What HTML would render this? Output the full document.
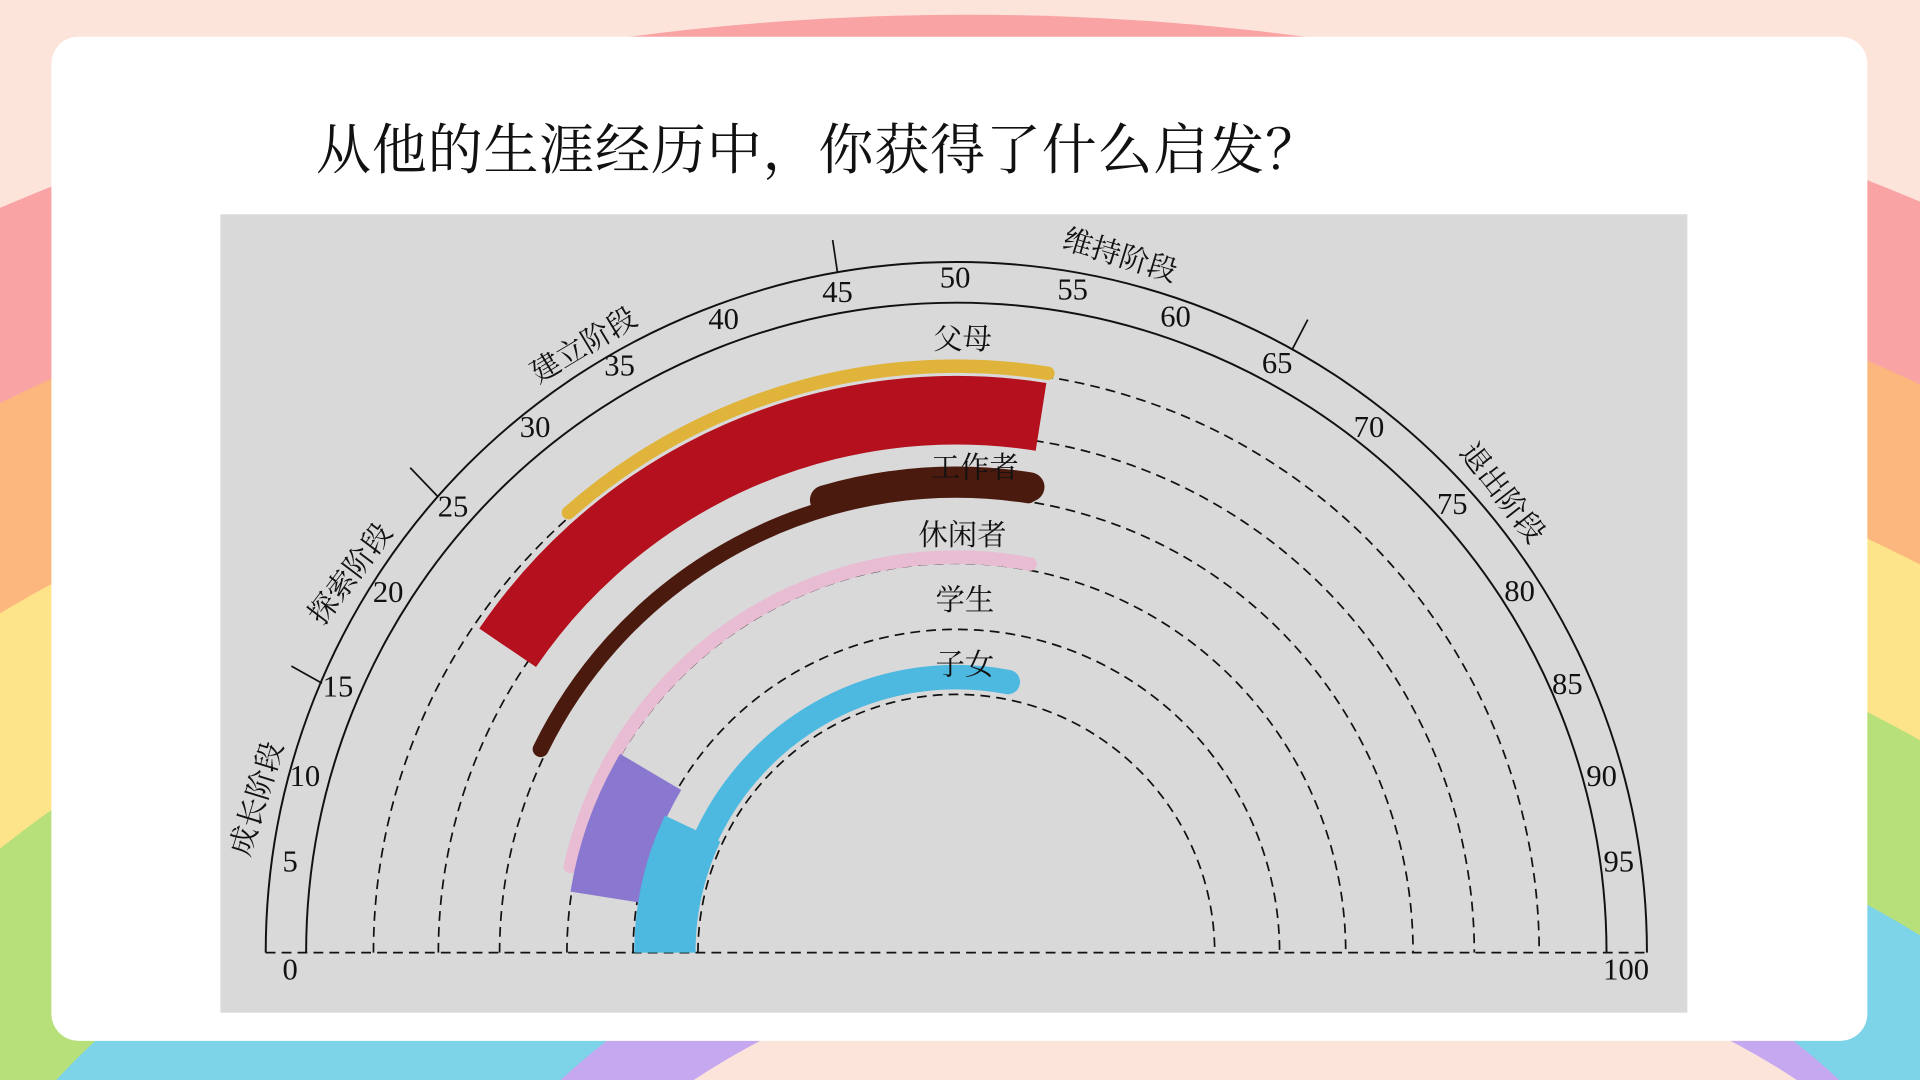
<!DOCTYPE html>
<html><head><meta charset="utf-8"><style>
html,body{margin:0;padding:0;width:1920px;height:1080px;overflow:hidden;background:#fde4da}
svg{display:block;overflow:hidden}
.n{font-family:"Liberation Serif","Noto Serif CJK SC",serif;font-size:25px;fill:#111}
.c{font-family:"Liberation Serif","Noto Serif CJK SC",serif;font-size:24px;fill:#111}
</style></head><body>
<svg width="1920" height="1080" viewBox="0 0 1568 882" xmlns="http://www.w3.org/2000/svg">
<rect width="1568" height="882" fill="#fde4da"/>
<ellipse cx="790" cy="1150" rx="1555" ry="1138" fill="#f9a3a5"/>
<ellipse cx="800" cy="1150" rx="1400" ry="1000" fill="#fbb77e"/>
<ellipse cx="820" cy="1150" rx="1250" ry="860" fill="#fde48a"/>
<ellipse cx="850" cy="1150" rx="1100" ry="720" fill="#b8e07a"/>
<ellipse cx="880" cy="1150" rx="950" ry="560" fill="#7dd3e8"/>
<ellipse cx="980" cy="1150" rx="650" ry="450" fill="#c6a8f0"/>
<ellipse cx="1017" cy="1150" rx="620" ry="390" fill="#fde4da"/>
<rect x="42" y="30" width="1483" height="820" rx="22" fill="#fff"/>
<text x="258" y="138" font-family="'Liberation Serif','Noto Serif CJK SC',serif" font-size="45" letter-spacing="0.6" fill="#111">从他的生涯经历中，你获得了什么启发？</text>
<rect x="180" y="175" width="1198" height="652" fill="#d9d9d9"/>

<g fill="none" stroke="#111" stroke-width="1.6">
<path d="M217 778 A564 564 0 0 1 1345 778"/>
<path d="M250 778 A531 531 0 0 1 1312 778"/>
<g stroke-dasharray="8 5" stroke-width="1.4">
<path d="M305 778 A476 476 0 0 1 1257 778"/>
<path d="M358 778 A423 423 0 0 1 1204 778"/>
<path d="M408 778 A373 373 0 0 1 1154 778"/>
<path d="M463 778 A318 318 0 0 1 1099 778"/>
<path d="M517 778 A264 264 0 0 1 1045 778"/>
<path d="M570 778 A211 211 0 0 1 992 778"/>
<path d="M217 778 H1345"/>
</g>
<g stroke-width="1.4">
<line x1="238" y1="544" x2="263" y2="558"/>
<line x1="335" y1="382" x2="358" y2="406"/>
<line x1="680" y1="196" x2="684" y2="223"/>
<line x1="1068" y1="261" x2="1055" y2="286"/>
</g>
</g>

<!-- colored strokes -->
<g fill="none">
<path d="M302 778 A479 479 0 0 1 1260 778" pathLength="100" stroke="#e0b43a" stroke-width="11" stroke-dasharray="28 300" stroke-dashoffset="-27" stroke-linecap="round"/>
<path d="M338 778 A443 443 0 0 1 1224 778" pathLength="100" stroke="#b5101e" stroke-width="56" stroke-dasharray="36 300" stroke-dashoffset="-19"/>
<path d="M403 778 A378 378 0 0 1 1159 778" pathLength="100" stroke="#4a1a0e" stroke-width="13" stroke-dasharray="40.5 300" stroke-dashoffset="-14.5" stroke-linecap="round"/>
<path d="M396 778 A385 385 0 0 1 1166 778" pathLength="100" stroke="#4a1a0e" stroke-width="24" stroke-dasharray="14 300" stroke-dashoffset="-41" stroke-linecap="round"/>
<path d="M458 778 A323 323 0 0 1 1104 778" pathLength="100" stroke="#e8bcd2" stroke-width="11" stroke-dasharray="49 300" stroke-dashoffset="-7" stroke-linecap="round"/>
<path d="M491 778 A290 290 0 0 1 1071 778" pathLength="100" stroke="#8a78d0" stroke-width="58" stroke-dasharray="12 300" stroke-dashoffset="-5"/>
<path d="M543 778 A238 238 0 0 1 1019 778" pathLength="100" stroke="#4db8e0" stroke-width="50" stroke-dasharray="14 300" stroke-dashoffset="0"/>
<path d="M556 778 A225 225 0 0 1 1006 778" pathLength="100" stroke="#4db8e0" stroke-width="20" stroke-dasharray="44 300" stroke-dashoffset="-12" stroke-linecap="round"/>
</g>

<!-- role labels -->
<g class="c" text-anchor="middle">
<text x="786" y="285" class="c">父母</text>
<text x="796" y="390" class="c">工作者</text>
<text x="786" y="445" class="c">休闲者</text>
<text x="788" y="498" class="c">学生</text>
<text x="788" y="551" class="c">子女</text>
</g>

<!-- stage labels -->
<g class="c" text-anchor="middle" dominant-baseline="middle">
<text transform="translate(212,653) rotate(-73)">成长阶段</text>
<text transform="translate(288,470) rotate(-53)">探索阶段</text>
<text transform="translate(478,284) rotate(-31)">建立阶段</text>
<text transform="translate(914,211) rotate(17)">维持阶段</text>
<text transform="translate(1225,404) rotate(52)">退出阶段</text>
</g>

<!-- numbers -->
<g class="n" text-anchor="middle" dominant-baseline="middle">
<text x="237" y="794">0</text>
<text x="237" y="706">5</text>
<text x="249" y="636">10</text>
<text x="276" y="563">15</text>
<text x="317" y="486">20</text>
<text x="370" y="416">25</text>
<text x="437" y="351">30</text>
<text x="506" y="301">35</text>
<text x="591" y="263">40</text>
<text x="684" y="241">45</text>
<text x="780" y="229">50</text>
<text x="876" y="239">55</text>
<text x="960" y="261">60</text>
<text x="1043" y="299">65</text>
<text x="1118" y="351">70</text>
<text x="1186" y="414">75</text>
<text x="1241" y="485">80</text>
<text x="1280" y="561">85</text>
<text x="1308" y="636">90</text>
<text x="1322" y="706">95</text>
<text x="1328" y="794">100</text>
</g>
</svg>
</body></html>
